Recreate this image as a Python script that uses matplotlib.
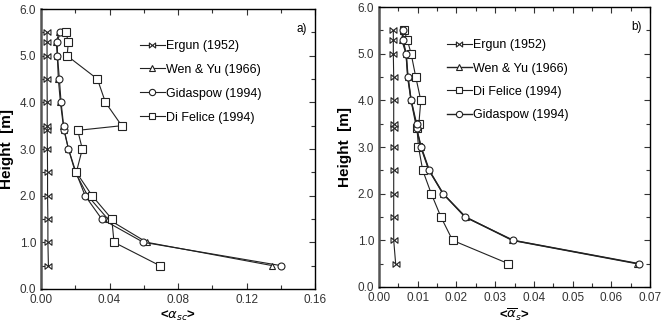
import numpy as np
import matplotlib
matplotlib.use("Agg")
import matplotlib.pyplot as plt
from matplotlib.path import Path
from matplotlib.ticker import MultipleLocator

plt.rcParams['font.family'] = ['Liberation Sans', 'DejaVu Sans']

height = [0.5, 1.0, 1.5, 2.0, 2.5, 3.0, 3.4, 3.5, 4.0, 4.5, 5.0, 5.3, 5.5]

# panel a)
a_ergun = [0.0043, 0.004, 0.004, 0.0038, 0.0038, 0.0037, 0.0036, 0.0036, 0.0036, 0.0035, 0.0035, 0.0035, 0.0035]
a_wenyu = [0.135, 0.0617, 0.0390, 0.0272, 0.0200, 0.0160, 0.0134, 0.0130, 0.0113, 0.0101, 0.0095, 0.0088, 0.0107]
a_gidaspow = [0.140, 0.0597, 0.0354, 0.0257, 0.0204, 0.0160, 0.0136, 0.0132, 0.0117, 0.0107, 0.0096, 0.0095, 0.0112]
a_difelice = [0.0693, 0.0426, 0.0413, 0.0298, 0.0206, 0.0241, 0.0214, 0.0471, 0.0376, 0.0329, 0.0152, 0.0160, 0.0144]

# panel b)
b_ergun = [0.0043, 0.0038, 0.0038, 0.0038, 0.0038, 0.0038, 0.0038, 0.0038, 0.0038, 0.0038, 0.0037, 0.0037, 0.0037]
b_wenyu = [0.0666, 0.0344, 0.0224, 0.0165, 0.0130, 0.0109, 0.0097, 0.0095, 0.0083, 0.0075, 0.0070, 0.0059, 0.0062]
b_gidaspow = [0.0671, 0.0347, 0.0222, 0.0166, 0.0129, 0.0108, 0.0097, 0.0097, 0.0083, 0.0074, 0.0070, 0.0062, 0.0062]
b_difelice = [0.0334, 0.0190, 0.0160, 0.0135, 0.0113, 0.0102, 0.0098, 0.0103, 0.0108, 0.0095, 0.0083, 0.0073, 0.0065]

bowtie = Path([(-1, -0.8), (-1, 0.8), (1, -0.8), (1, 0.8), (-1, -0.8)],
              [Path.MOVETO, Path.LINETO, Path.LINETO, Path.LINETO, Path.CLOSEPOLY])


def style_axes(ax, xmax, xmajor, xminor, xlabel, tag):
    ax.set_xlim(0, xmax)
    ax.set_ylim(0, 6)
    ax.xaxis.set_major_locator(MultipleLocator(xmajor))
    ax.xaxis.set_minor_locator(MultipleLocator(xminor))
    ax.yaxis.set_minor_locator(MultipleLocator(0.5))
    ax.tick_params(which='both', direction='in', top=True, right=True,
                   labelsize=8.5, colors='#333333', width=0.8)
    ax.tick_params(which='major', length=4)
    ax.tick_params(which='minor', length=3)
    ax.set_yticks(np.arange(0, 6.01, 1.0))
    ax.set_yticklabels(['%.1f' % v for v in np.arange(0, 6.01, 1.0)])
    ax.set_ylabel('Height  [m]', fontsize=11, fontweight='bold', labelpad=4)
    ax.set_xlabel(xlabel, fontsize=9.5, fontweight='bold', labelpad=2)
    for s in ax.spines.values():
        s.set_linewidth(1.0)
    ax.spines['left'].set_linewidth(1.8)
    ax.spines['left'].set_color('#555555')
    ax.text(0.97, 0.95, tag, transform=ax.transAxes, ha='right', va='top', fontsize=8.5)


def plot_series(ax, x, lab, mk, ms, lw=0.8):
    ax.plot(x, height, color='#222222', lw=lw, marker=mk, ms=ms,
            mfc='white', mec='#222222', mew=0.8, label=lab)


fig = plt.figure(figsize=(6.62, 3.25), dpi=100)

ax1 = fig.add_axes([0.062, 0.111, 0.414, 0.861])
plot_series(ax1, a_ergun, 'Ergun (1952)', bowtie, 5)
plot_series(ax1, a_wenyu, 'Wen & Yu (1966)', '^', 5)
plot_series(ax1, a_gidaspow, 'Gidaspow (1994)', 'o', 5)
plot_series(ax1, a_difelice, 'Di Felice (1994)', 's', 5.5)
style_axes(ax1, 0.16, 0.04, 0.02, r'<$\alpha_{sc}$>', 'a)')
ax1.legend(loc='upper left', bbox_to_anchor=(0.36, 0.89), frameon=False,
           borderpad=0, borderaxespad=0,
           fontsize=9, handlelength=2.0, handletextpad=0.1, labelspacing=0.95,
           markerscale=0.9)

ax2 = fig.add_axes([0.5725, 0.117, 0.4095, 0.861])
plot_series(ax2, b_ergun, 'Ergun (1952)', bowtie, 5)
plot_series(ax2, b_wenyu, 'Wen & Yu (1966)', '^', 5, lw=1.0)
plot_series(ax2, b_difelice, 'Di Felice (1994)', 's', 5.5)
plot_series(ax2, b_gidaspow, 'Gidaspow (1994)', 'o', 5, lw=1.0)
style_axes(ax2, 0.07, 0.01, 0.005, r'<$\overline{\alpha}_{s}$>', 'b)')
ax2.legend(loc='upper left', bbox_to_anchor=(0.25, 0.885), frameon=False,
           borderpad=0, borderaxespad=0,
           fontsize=9, handlelength=2.0, handletextpad=0.1, labelspacing=0.9,
           markerscale=0.9)

fig.savefig('out.png', dpi=100)
